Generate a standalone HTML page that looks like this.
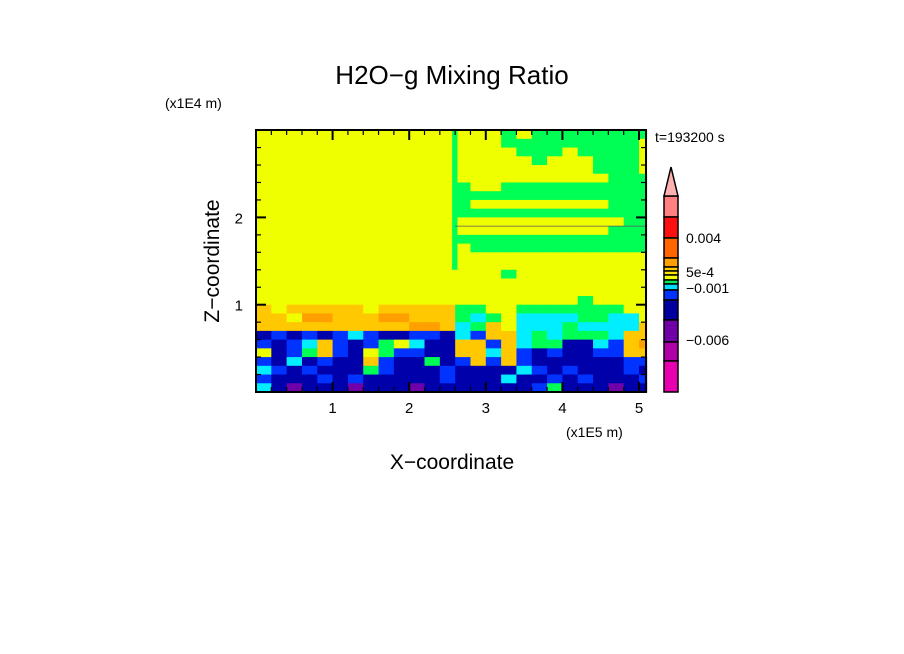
<!DOCTYPE html>
<html><head><meta charset="utf-8"><style>
body{margin:0;background:#fff;}
svg{display:block;font-family:"Liberation Sans",sans-serif;}
</style></head><body>
<svg id="chart" width="904" height="654" viewBox="0 0 904 654" xmlns="http://www.w3.org/2000/svg">
<rect width="904" height="654" fill="#fff"/>
<text x="452" y="84" text-anchor="middle" font-size="26" fill="#000">H2O−g Mixing Ratio</text>
<text x="165" y="108" font-size="14" fill="#000">(x1E4 m)</text>
<text x="655" y="142" font-size="14" fill="#000">t=193200 s</text>
<text x="566" y="437" font-size="14" fill="#000">(x1E5 m)</text>
<text x="452" y="469" text-anchor="middle" font-size="21" fill="#000">X−coordinate</text>
<text transform="translate(219,261) rotate(-90)" text-anchor="middle" font-size="21" fill="#000">Z−coordinate</text>
<g id="cells"></g>
<g id="ticks"></g>
<g id="cbar"></g>
<rect x="256" y="130" width="390" height="262" fill="none" stroke="#000" stroke-width="2"/>
</svg>
<script>
const xTicks=[1,2,3,4,5];
const zTicks=[1,2];
const xMax=5.1, zMax=3.0;
const cellDx=0.2, cellDz=0.1;
// rows from top (z=3.0) to bottom (z=0), columns x=0..5.2 step 0.2
const fieldRows=[
"YYYYYYYYYYYYYYYYGYGGGGGGGG",
"YYYYYYYYYYYYYYYYGGGGGGGGGY",
"YYYYYYYYYYYYYYYYYGGGYGGGGY",
"YYYYYYYYYYYYYYYYYYGYYYGGGY",
"YYYYYYYYYYYYYYYYYYYYYYGGGY",
"YYYYYYYYYYYYYYYYYYYYYYYGGG",
"YYYYYYYYYYYYYGYYGGGGGGGGGG",
"YYYYYYYYYYYYYGGGGGGGGGGGGG",
"YYYYYYYYYYYYYGYYYYYYYYYGGG",
"YYYYYYYYYYYYYGGGGGGGGGGGGG",
"YYYYYYYYYYYYYYYYYYYYYYYYGG",
"YYYYYYYYYYYYYYYYYYYYYYYGGG",
"YYYYYYYYYYYYYGGGGGGGGGGGGG",
"YYYYYYYYYYYYYYGGGGGGGGGGGG",
"YYYYYYYYYYYYYYYYYYYYYYYYYY",
"YYYYYYYYYYYYYYYYYYYYYYYYYY",
"YYYYYYYYYYYYYYYYGYYYYYYYYY",
"YYYYYYYYYYYYYYYYYYYYYYYYYY",
"YYYYYYYYYYYYYYYYYYYYYYYYYY",
"YYYYYYYYYYYYYYYYYYYYYGYYYY",
"OYOOOOOYOOOOOGGYYGGGGGGGYY",
"OOYRROOORROOOGCGYCCCCGGCCY",
"OOOOOOOOOORROCGOYCCCGCCCCO",
"NBNBNBCBNNBBNCBOOCGCGGGCOO",
"BNBCOBNBGYCNNOOBOCGGNNCBOR",
"YNBGOBNYGBBNNOOCOBNBNNBBOO",
"BNCNBNNOBNNGNBOBOBNNNNNNBB",
"CBNBNNNGBNNNBNNNNCBNBNNNBN",
"BNNNBNBNNNNNBNNNCNNBNBNNNB",
"CNPNNNPNNNPNNNNNNNBGNNNPNN"
];
const palette={Y:"#f0ff00",G:"#00ff55",C:"#00eeff",B:"#0033ff",N:"#0000aa",O:"#ffc800",R:"#ffa000",P:"#7000aa"};
const cbarColors=["#ff8080","#ff1010","#ff6600","#ffa000","#ffcc00","#ffe400","#f0ff00","#00ee55","#00ddff","#0033ff","#0000a0","#7000a8","#b000a8","#e800b0"];
const cbarBounds=[196,217,238,258,267,271,275,280,284,290,300,320,342,361,392];
const cbarTickLabels=["0.004","5e-4","−0.001","−0.006"];
const cbarTickY=[238,272,288,340];

const NS="http://www.w3.org/2000/svg";
const X0=256,X1=646,Y0=392,Y1=130;
const sx=v=>X0+v*(76.6);
const sz=v=>Y0-v*87.3;
function mk(tag,attrs,parent){const e=document.createElementNS(NS,tag);for(const k in attrs)e.setAttribute(k,attrs[k]);parent.appendChild(e);return e;}
const cells=document.getElementById('cells');
fieldRows.forEach((row,ri)=>{
  const zTop=zMax-ri*cellDz, zBot=zTop-cellDz;
  [...row].forEach((ch,ci)=>{
    const xa=ci*cellDx, xb=Math.min(xa+cellDx,xMax);
    if(xa>=xMax)return;
    const r=mk('rect',{x:sx(xa),y:sz(zTop),width:sx(xb)-sx(xa)+0.5,height:sz(zBot)-sz(zTop)+0.5,fill:palette[ch]},cells);
    
    
  });
});
const strip=mk('rect',{x:sx(2.56),y:sz(3.0),width:sx(2.63)-sx(2.56),height:sz(1.4)-sz(3.0),fill:palette.G},cells);


const band=mk('line',{x1:sx(2.6),x2:sx(5.1),y1:sz(1.9),y2:sz(1.9),stroke:'#556',"stroke-width":0.8},cells);


const tk=document.getElementById('ticks');
for(let v=0.2;v<xMax;v+=0.2){const maj=Math.abs(v-Math.round(v))<0.01;const L=maj?10:5;
  mk('line',{x1:sx(v),x2:sx(v),y1:Y0,y2:Y0-L,stroke:'#000','stroke-width':maj?2:1.2},tk);
  mk('line',{x1:sx(v),x2:sx(v),y1:Y1,y2:Y1+L,stroke:'#000','stroke-width':maj?2:1.2},tk);}
for(let v=0.2;v<zMax;v+=0.2){const maj=Math.abs(v-Math.round(v))<0.01;const L=maj?10:5;
  mk('line',{x1:X0,x2:X0+L,y1:sz(v),y2:sz(v),stroke:'#000','stroke-width':maj?2:1.2},tk);
  mk('line',{x1:X1,x2:X1-L,y1:sz(v),y2:sz(v),stroke:'#000','stroke-width':maj?2:1.2},tk);}
xTicks.forEach(v=>{const t=mk('text',{x:sx(v),y:413,'text-anchor':'middle','font-size':15},tk);t.textContent=v;
  
  });
zTicks.forEach(v=>{const t=mk('text',{x:243,y:sz(v)+6,'text-anchor':'end','font-size':15},tk);t.textContent=v;
  
  });
const cb=document.getElementById('cbar');
cbarColors.forEach((c,i)=>{const r=mk('rect',{x:664,y:cbarBounds[i],width:14,height:cbarBounds[i+1]-cbarBounds[i],fill:c,stroke:'#000','stroke-width':1.5},cb);
  
  });
const ar=mk('polygon',{points:'664,196 671,167 678,196',fill:'#ffb0b0',stroke:'#000','stroke-width':1.5},cb);


cbarTickLabels.forEach((s,i)=>{const t=mk('text',{x:686,y:cbarTickY[i]+5,'font-size':14},cb);t.textContent=s;
  
  });
</script>
</body></html>
